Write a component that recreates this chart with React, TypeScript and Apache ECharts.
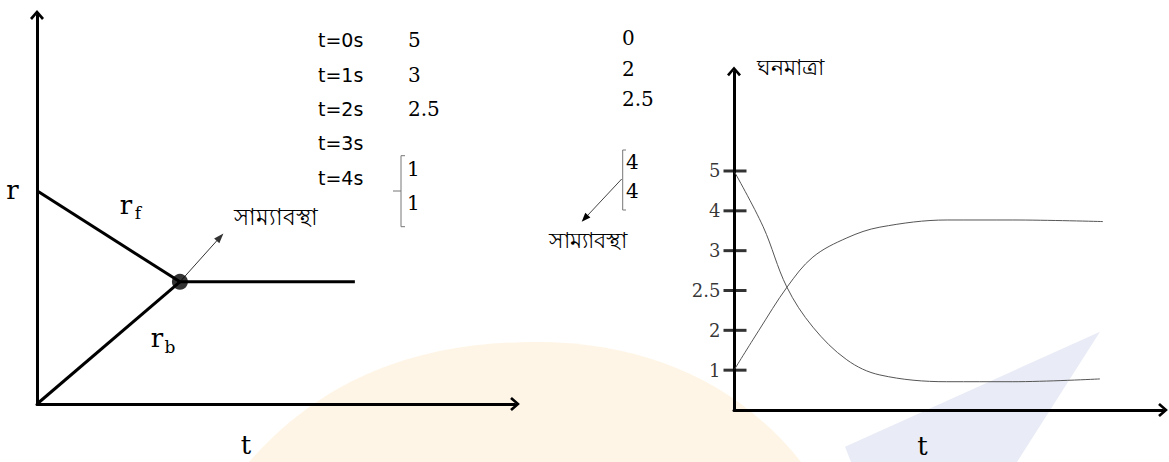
import React, { useEffect, useRef } from "react";
import * as echarts from "echarts";

// ---- Left plot (rate vs time) ----
const forwardRate = [[0, 54.8], [29.9, 31.4]];
const backwardRate = [[0, 0], [29.9, 31.4]];
const equilibriumRate = [[29.9, 31.4], [66.5, 31.4]];
const equilibriumPoint = [[29.9, 31.4]];
const equilibriumPointer = [[29.9, 31.4], [38.3, 42.9]];

// ---- Table ----
const timeLabels = ["t=0s", "t=1s", "t=2s", "t=3s", "t=4s"];
const reactantValues = ["5", "3", "2.5"];
const productValues = ["0", "2", "2.5"];
const reactantEq = ["1", "1"];
const productEq = ["4", "4"];

// ---- Right plot (concentration vs time) ----
const yTickPositions = [1, 2, 3, 4, 5, 6];
const yTickLabels = ["1", "2", "2.5", "3", "4", "5"];
const reactantCurve = [[0, 6], [0.68, 4.6], [1.23, 3.09], [1.84, 2.08], [2.63, 1.26], [3.4, 0.88], [4.96, 0.71], [6.5, 0.71], [8.53, 0.78]];
const productCurve = [[0, 1], [0.58, 2.0], [1.24, 3.09], [1.84, 3.84], [2.63, 4.32], [3.4, 4.59], [4.97, 4.77], [6.5, 4.77], [8.6, 4.73]];

const EQ_TEXT = "সাম্যাবস্থা";
const CONC_TEXT = "ঘনমাত্রা";

const SERIF = "DejaVu Serif";
const SANS = "DejaVu Sans";
const BN = "Noto Sans, sans-serif";

const chevron = "path://M0,8 L7,0 L14,8 L12,9.8 L7,3.8 L2,9.8 Z";

let registered = false;
function registerShapes() {
  if (registered) return;
  registered = true;
  echarts.graphic.registerShape(
    "dome",
    echarts.graphic.extendPath("M249,462 C330,370 430,342 536,342 C650,342 740,385 801,462 Z", {})
  );
}

function axisBase(gridIndex: number, min: number, max: number) {
  return {
    type: "value",
    gridIndex,
    min,
    max,
    axisLine: {
      show: true,
      onZero: false,
      symbol: ["none", chevron],
      symbolSize: [14, 10],
      lineStyle: { color: "#000", width: 3 },
    },
    axisTick: { show: false },
    axisLabel: { show: false },
    splitLine: { show: false },
  };
}

function txt(text: string, x: number, y: number, font: string, size: number, align = "left") {
  return {
    type: "text",
    z: 10,
    x,
    y,
    style: {
      text,
      fill: "#000",
      font: `${size}px ${font}`,
      textAlign: align,
      textVerticalAlign: "middle",
    },
  };
}

export default function App() {
  const ref = useRef<HTMLDivElement>(null);
  useEffect(() => {
    document.body.style.margin = "0";
    registerShapes();
    const chart = echarts.init(ref.current!, null, { renderer: "svg" });
    const thick = { color: "#000", width: 3 };
    const graphics: any[] = [
      { type: "dome", z: 0, x: 0, y: 0, style: { fill: "#FFF5E6" } },
      { type: "polygon", z: 0, shape: { points: [[1100, 331.7], [845, 446.7], [851, 462], [1017, 462]] }, style: { fill: "#E9ECF6" } },
      // left plot labels
      txt("r", 12.5, 190, SERIF, 26, "center"),
      txt("r", 126, 205, SERIF, 26, "center"),
      txt("f", 138, 213, SERIF, 17, "center"),
      txt("r", 157, 338, SERIF, 26, "center"),
      txt("b", 170, 347, SERIF, 17, "center"),
      txt("t", 246, 445, SERIF, 26, "center"),
      txt(EQ_TEXT, 275.5, 216, BN, 23, "center"),
      // right plot labels
      txt("t", 922.5, 446, SERIF, 26, "center"),
      txt(CONC_TEXT, 790, 66, BN, 22, "center"),
      txt(EQ_TEXT, 587.5, 239, BN, 22, "center"),
      // brackets
      { type: "polyline", z: 10, shape: { points: [[405, 155.7], [401, 155.7], [401, 226.7], [405, 226.7]] }, style: { stroke: "#777", lineWidth: 1, fill: null } },
      { type: "line", z: 10, shape: { x1: 393, y1: 191, x2: 401, y2: 191 }, style: { stroke: "#777", lineWidth: 1 } },
      { type: "polyline", z: 10, shape: { points: [[626, 150], [622.7, 150], [622.7, 210], [626, 210]] }, style: { stroke: "#777", lineWidth: 1, fill: null } },
      { type: "line", z: 10, shape: { x1: 621.7, y1: 179, x2: 587.9, y2: 215.1 }, style: { stroke: "#444", lineWidth: 1 } },
      { type: "polygon", z: 10, shape: { points: [[581.7, 221.7], [590.4, 217.5], [585.3, 212.7]] }, style: { fill: "#000" } },
    ];
    const tableY = [40, 75, 108.5, 143, 178];
    timeLabels.forEach((t, i) => graphics.push(txt(t, 318, tableY[i], SANS, 19)));
    const aY = [40, 75, 108.5];
    reactantValues.forEach((v, i) => graphics.push(txt(v, 408, aY[i], SERIF, 20)));
    const bY = [38, 68.5, 98.5];
    productValues.forEach((v, i) => graphics.push(txt(v, 622, bY[i], SERIF, 20)));
    const eY1 = [168.5, 203];
    reactantEq.forEach((v, i) => graphics.push(txt(v, 407, eY1[i], SERIF, 20)));
    const eY2 = [161.5, 190.5];
    productEq.forEach((v, i) => graphics.push(txt(v, 626, eY2[i], SERIF, 20)));

    chart.setOption({
      animation: false,
      backgroundColor: "#fff",
      grid: [
        { left: 37, top: 15, width: 478, height: 389 },
        { left: 734, top: 71.4, width: 429, height: 338.6 },
      ],
      xAxis: [axisBase(0, 0, 100), axisBase(1, 0, 10)],
      yAxis: [axisBase(0, 0, 100), axisBase(1, 0, 8.5)],
      graphic: graphics,
      series: [
        { type: "line", xAxisIndex: 0, yAxisIndex: 0, data: forwardRate, symbol: "none", lineStyle: thick, z: 3 },
        { type: "line", xAxisIndex: 0, yAxisIndex: 0, data: backwardRate, symbol: "none", lineStyle: thick, z: 3 },
        {
          type: "line", xAxisIndex: 0, yAxisIndex: 0, data: equilibriumRate, symbol: "none", lineStyle: thick, z: 3,
          markLine: {
            silent: true,
            symbol: ["none", "triangle"],
            symbolSize: [7, 10],
            label: { show: false },
            lineStyle: { color: "#333", width: 1, type: "solid" },
            data: [[{ coord: equilibriumPointer[0] }, { coord: equilibriumPointer[1] }]],
          },
        },
        { type: "scatter", xAxisIndex: 0, yAxisIndex: 0, data: equilibriumPoint, symbolSize: 16, itemStyle: { color: "#000" }, z: 5 },
        {
          type: "scatter", xAxisIndex: 1, yAxisIndex: 1, clip: false,
          data: yTickPositions.map((p) => [0, p]),
          symbol: "rect", symbolSize: [23, 3], symbolOffset: [1, 0],
          itemStyle: { color: "#000" },
          label: {
            show: true, position: "left", distance: 3,
            formatter: (p: any) => yTickLabels[p.dataIndex],
            fontFamily: SERIF, fontSize: 18, color: "#000",
          },
          z: 5,
        },
        { type: "line", xAxisIndex: 1, yAxisIndex: 1, data: reactantCurve, smooth: 0.35, symbol: "none", lineStyle: { color: "#555", width: 1 } },
        { type: "line", xAxisIndex: 1, yAxisIndex: 1, data: productCurve, smooth: 0.35, symbol: "none", lineStyle: { color: "#555", width: 1 } },
      ],
    });
    return () => chart.dispose();
  }, []);
  return <div ref={ref} style={{ width: 1169, height: 462 }} />;
}
